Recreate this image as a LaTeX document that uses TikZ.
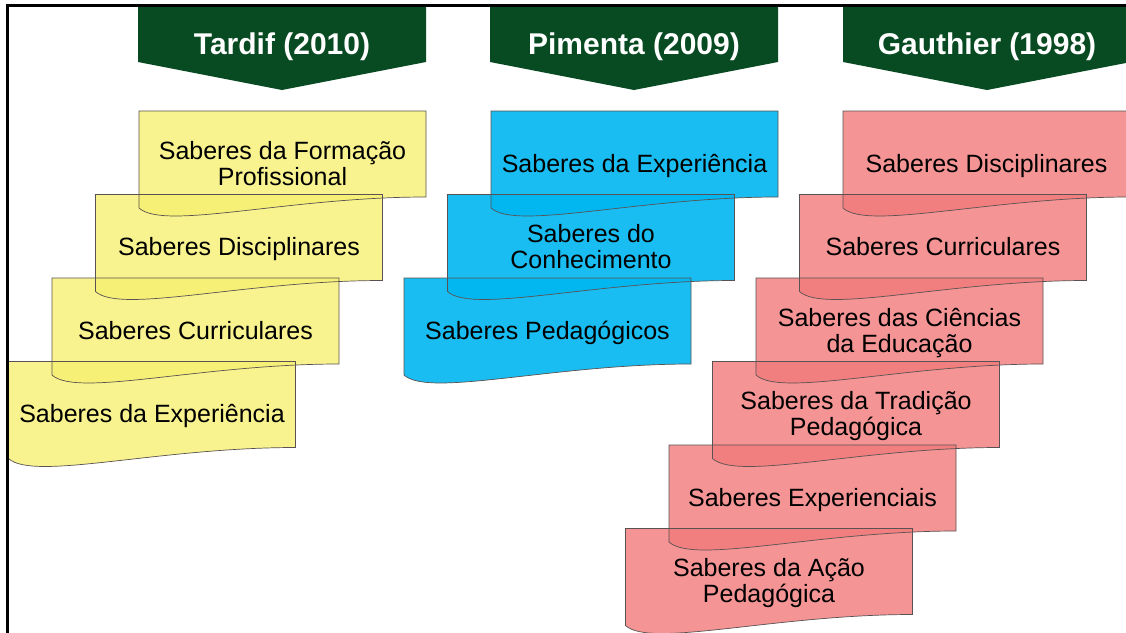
\documentclass[tikz,border=0pt]{standalone}
\usepackage{fontspec}
\setmainfont{Liberation Sans}
\pgfdeclarelayer{bglayer}
\pgfdeclarelayer{fills}
\pgfsetlayers{bglayer,fills,main}
\definecolor{hdrgreen}{RGB}{8,74,34}
\definecolor{ylw}{RGB}{247,240,114}
\definecolor{pnk}{RGB}{242,122,122}
\definecolor{blu}{RGB}{0,182,240}
\definecolor{edgegray}{RGB}{90,82,82}
\tikzset{
  outl/.style={draw=edgegray, line width=0.7pt},
  boxtext/.style={align=center, font=\fontsize{25}{26}\selectfont, inner sep=0pt, text=black},
  hdrtext/.style={font=\fontsize{30}{30}\selectfont\bfseries, text=white, inner sep=0pt, anchor=base},
  framestyle/.style={draw=black, line width=2.5pt},
}
\newcommand\bs{\rule[-5.5pt]{0pt}{24.5pt}}
\newcommand\docbox[6]{%
  \begin{scope}[shift={(#2,#3)}]
    \begin{pgfonlayer}{fills}
      \fill[#4, fill opacity=#5] (0,0) -- (287,0) -- (287,86) .. controls (149,86) and (25,120) .. (0,97) -- cycle;
    \end{pgfonlayer}
    \draw[outl] (0,0) -- (287,0) -- (287,86) .. controls (149,86) and (25,120) .. (0,97) -- cycle;
    \node[boxtext] (#1) at (143.5,54.5) {\bs#6\bs};
  \end{scope}}
\newcommand\hdrbox[3]{%
  \begin{scope}[shift={(#2,0)}]
    \fill[hdrgreen] (0,6.5) -- (288,6.5) -- (288,62) -- (144,90) -- (0,62) -- cycle;
    \node[hdrtext] (#1) at (144,54) {#3};
  \end{scope}}
\begin{document}
\begin{tikzpicture}[x=1pt,y=-1pt]
\useasboundingbox (0,0) rectangle (1126,632);
\begin{pgfonlayer}{bglayer}
\fill[white] (0,0) rectangle (1126,632);
\end{pgfonlayer}
% headers
\hdrbox{hT}{138}{Tardif (2010)}
\hdrbox{hP}{490}{Pimenta (2009)}
\hdrbox{hG}{843}{Gauthier (1998)}
% Tardif
\docbox{t1}{139}{111}{ylw}{0.8}{Saberes da Formação\\Profissional}
\docbox{t2}{95.5}{194.5}{ylw}{0.8}{Saberes Disciplinares}
\docbox{t3}{52}{278}{ylw}{0.8}{Saberes Curriculares}
\docbox{t4}{8.5}{361.5}{ylw}{0.8}{Saberes da Experiência}
% Pimenta
\docbox{p1}{491}{111}{blu}{0.9}{Saberes da Experiência}
\docbox{p2}{447.5}{194.5}{blu}{0.9}{Saberes do\\Conhecimento}
\docbox{p3}{404}{278}{blu}{0.9}{Saberes Pedagógicos}
% Gauthier
\docbox{g1}{843}{111}{pnk}{0.8}{Saberes Disciplinares}
\docbox{g2}{799.5}{194.5}{pnk}{0.8}{Saberes Curriculares}
\docbox{g3}{756}{278}{pnk}{0.8}{Saberes das Ciências\\da Educação}
\docbox{g4}{712.5}{361.5}{pnk}{0.8}{Saberes da Tradição\\Pedagógica}
\docbox{g5}{669}{445}{pnk}{0.8}{Saberes Experienciais}
\docbox{g6}{625.5}{528.5}{pnk}{0.8}{Saberes da Ação\\Pedagógica}
% frame
\coordinate (fa) at (7.5,640);
\coordinate (fb) at (7.5,5.5);
\coordinate (fc) at (1130,5.5);
\draw[framestyle] (fa) -- (fb) -- (fc);
\end{tikzpicture}
\end{document}
